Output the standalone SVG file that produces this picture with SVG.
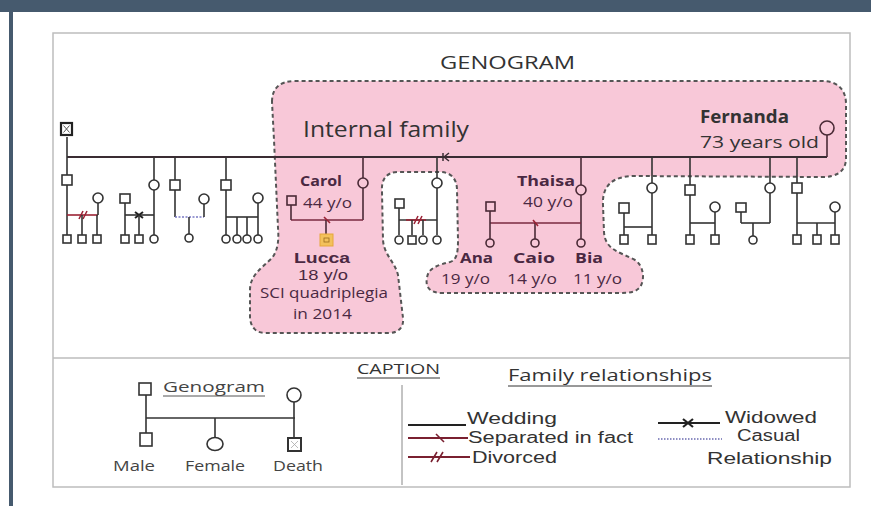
<svg xmlns="http://www.w3.org/2000/svg" width="871" height="506" viewBox="0 0 871 506">
<style>
text{font-family:"Open Sans","Liberation Sans",sans-serif;fill:#333}
.nm{font-weight:bold;fill:#4a2842;font-size:15px}
.ag{fill:#4a2842;font-size:14px}
.tight{font-family:"Liberation Sans",Arial,sans-serif}
.ln{stroke:#333;stroke-width:1.6;fill:none}
.pl{stroke:#4a2a36;stroke-width:1.6;fill:none}
.sq{fill:#fff;stroke:#333;stroke-width:1.6}
.ci{fill:#fff;stroke:#333;stroke-width:1.6}
.psq{fill:none;stroke:#4a2a36;stroke-width:1.6}
.red{stroke:#9b2335;stroke-width:1.6;fill:none}
.lg{font-family:"Liberation Sans",Arial,sans-serif;font-size:16px;fill:#333}
.cap{font-size:15px;fill:#444}
</style>
<rect x="0" y="0" width="871" height="506" fill="#fff"/>
<rect x="0" y="0" width="871" height="12" fill="#465a6e"/>
<rect x="9" y="0" width="4" height="506" fill="#465a6e"/>
<rect x="53" y="33" width="797" height="454" fill="#fff" stroke="#bdbdbd" stroke-width="1.5"/>
<line x1="53" y1="358" x2="850" y2="358" stroke="#bdbdbd" stroke-width="1.5"/>

<g id="internal-family">
<path d="M272,102 C272,88 280,81 295,81 L822,81 C838,81 846,90 846,104 L846,158 C846,172 836,177 822,177 L635,176 C612,176 602,186 603,205 L604,232 C605,250 620,252 635,260 C644,266 645,280 640,287 C636,292 630,293 620,293 L442,293 C430,293 425,287 427,278 C428,268 438,265 450,262 C457,260 458,252 458,240 L457,190 C457,178 450,172 440,172 L398,172 C386,172 381,180 382,192 L383,240 C384,255 395,262 398,275 L403,318 C404,328 398,333 388,333 L265,333 C255,333 250,326 250,316 L250,290 C250,275 262,268 272,258 C278,250 279,240 278,228 L274,140 Z" fill="#f8c8d8" stroke="#555" stroke-width="2" stroke-dasharray="4,3"/>
<text x="303" y="137" font-size="21" fill="#3a3a48" textLength="166" lengthAdjust="spacingAndGlyphs">Internal family</text>
</g>

<g id="title"><text x="440" y="69" font-size="18" fill="#222" textLength="135" lengthAdjust="spacingAndGlyphs">GENOGRAM</text></g>

<g id="connectors">
<line x1="67" y1="157" x2="827" y2="157" stroke="#3a2c33" stroke-width="2"/>
<line class="ln" x1="67" y1="137" x2="67" y2="175"/>
<line class="ln" x1="67" y1="185" x2="67" y2="235"/>
<line class="red" x1="67" y1="215" x2="98" y2="215"/>
<line class="red" x1="79" y1="219" x2="83" y2="211"/><line class="red" x1="83" y1="219" x2="87" y2="211"/>
<line class="ln" x1="98" y1="203" x2="98" y2="215"/>
<line class="ln" x1="82" y1="215" x2="82" y2="235"/><line class="ln" x1="97" y1="215" x2="97" y2="235"/>
<line class="ln" x1="154" y1="157" x2="154" y2="180"/>
<line class="ln" x1="154" y1="190" x2="154" y2="235"/>
<line class="ln" x1="125" y1="203" x2="125" y2="235"/>
<line class="ln" x1="125" y1="215" x2="154" y2="215"/>
<path d="M135,212 L143,218 M135,218 L143,212" stroke="#222" stroke-width="2"/>
<line class="ln" x1="139" y1="215" x2="139" y2="235"/>
<line class="ln" x1="175" y1="157" x2="175" y2="180"/>
<line class="ln" x1="175" y1="190" x2="175" y2="217"/>
<line x1="175" y1="217" x2="204" y2="217" stroke="#7a7ac4" stroke-width="1.6" stroke-dasharray="2,1.5"/>
<line class="ln" x1="204" y1="204" x2="204" y2="217"/>
<line class="ln" x1="189" y1="217" x2="189" y2="234"/>
<line class="ln" x1="226" y1="157" x2="226" y2="180"/>
<line class="ln" x1="226" y1="190" x2="226" y2="235"/>
<line class="ln" x1="226" y1="217" x2="258" y2="217"/>
<line class="ln" x1="258" y1="203" x2="258" y2="235"/>
<line class="ln" x1="237" y1="217" x2="237" y2="235"/><line class="ln" x1="247" y1="217" x2="247" y2="235"/>
<line class="pl" x1="363" y1="157" x2="363" y2="178"/>
<line class="pl" x1="363" y1="188" x2="363" y2="220"/>
<line x1="291" y1="220" x2="363" y2="220" stroke="#7a2a40" stroke-width="1.6"/>
<line class="pl" x1="291" y1="205" x2="291" y2="220"/>
<line class="pl" x1="326" y1="220" x2="326" y2="234"/>
<line x1="324" y1="217" x2="330" y2="223" stroke="#9b2335" stroke-width="1.6"/>
<line class="ln" x1="437" y1="157" x2="437" y2="178"/>
<line class="ln" x1="437" y1="188" x2="437" y2="235"/>
<line class="ln" x1="399" y1="208" x2="399" y2="235"/>
<line class="ln" x1="399" y1="220" x2="437" y2="220"/>
<line class="red" x1="406" y1="220" x2="426" y2="220"/>
<line class="red" x1="414" y1="224" x2="418" y2="216"/><line class="red" x1="418" y1="224" x2="422" y2="216"/>
<line class="ln" x1="412" y1="220" x2="412" y2="235"/><line class="ln" x1="423" y1="220" x2="423" y2="235"/>
<path d="M443,153 L443,161 M449,153 L444,157 L449,161" stroke="#3a2c33" stroke-width="1.5" fill="none"/>
<line class="pl" x1="581" y1="157" x2="581" y2="185"/>
<line class="pl" x1="581" y1="195" x2="581" y2="239"/>
<line x1="490" y1="223" x2="581" y2="223" stroke="#7a2a40" stroke-width="1.6"/>
<line class="pl" x1="490" y1="211" x2="490" y2="239"/>
<line class="pl" x1="535" y1="223" x2="535" y2="239"/>
<line x1="533" y1="220" x2="538" y2="226" stroke="#9b2335" stroke-width="1.6"/>
<line class="ln" x1="652" y1="157" x2="652" y2="183"/>
<line class="ln" x1="652" y1="193" x2="652" y2="235"/>
<line class="ln" x1="624" y1="213" x2="624" y2="235"/>
<line class="ln" x1="624" y1="227" x2="652" y2="227"/>
<line class="ln" x1="690" y1="157" x2="690" y2="185"/>
<line class="ln" x1="690" y1="195" x2="690" y2="235"/>
<line class="ln" x1="690" y1="223" x2="715" y2="223"/>
<line class="ln" x1="715" y1="212" x2="715" y2="235"/>
<line class="ln" x1="770" y1="157" x2="770" y2="183"/>
<line class="ln" x1="770" y1="193" x2="770" y2="223"/>
<line class="ln" x1="741" y1="212" x2="741" y2="223"/>
<line class="ln" x1="741" y1="223" x2="770" y2="223"/>
<line class="ln" x1="753" y1="223" x2="753" y2="236"/>
<line class="ln" x1="797" y1="157" x2="797" y2="183"/>
<line class="ln" x1="797" y1="193" x2="797" y2="235"/>
<line class="ln" x1="797" y1="223" x2="835" y2="223"/>
<line class="ln" x1="835" y1="212" x2="835" y2="235"/>
<line class="ln" x1="817" y1="223" x2="817" y2="235"/>
<line class="pl" x1="827" y1="135" x2="827" y2="157"/>
</g>

<g id="death-ancestor"><rect x="61" y="123" width="11" height="12" fill="#fff" stroke="#222" stroke-width="2.2"/><path d="M63.5,125.5 L69.5,132.5 M69.5,125.5 L63.5,132.5" stroke="#555" stroke-width="1"/></g>
<g id="fam1"><rect class="sq" x="62" y="175" width="10" height="10"/><circle class="ci" cx="98" cy="198" r="5"/>
<rect class="sq" x="63" y="235" width="8" height="8"/><rect class="sq" x="78" y="235" width="8" height="8"/><rect class="sq" x="93" y="235" width="8" height="8"/></g>
<g id="fam2"><rect class="sq" x="120" y="194" width="10" height="9"/><circle class="ci" cx="154" cy="185" r="5"/>
<rect class="sq" x="121" y="235" width="8" height="8"/><rect class="sq" x="135" y="235" width="8" height="8"/><circle class="ci" cx="154" cy="239" r="4"/></g>
<g id="fam3"><rect class="sq" x="170" y="180" width="10" height="10"/><circle class="ci" cx="204" cy="199" r="5"/><circle class="ci" cx="189" cy="238" r="4"/></g>
<g id="fam4"><rect class="sq" x="221" y="180" width="10" height="10"/><circle class="ci" cx="258" cy="198" r="5"/>
<circle class="ci" cx="226" cy="239" r="4"/><circle class="ci" cx="237" cy="239" r="4"/><circle class="ci" cx="247" cy="239" r="4"/><circle class="ci" cx="258" cy="239" r="4"/></g>
<g id="carol"><circle class="psq" cx="363" cy="183" r="5"/><rect class="psq" x="287" y="196" width="9" height="9"/>
<text class="nm" x="300" y="186" font-size="16" textLength="42" lengthAdjust="spacingAndGlyphs">Carol</text>
<text class="ag" x="303" y="208" font-size="15" textLength="49" lengthAdjust="spacingAndGlyphs">44 y/o</text></g>
<g id="lucca"><rect x="320" y="234" width="13" height="12" fill="#f3c15c" stroke="#e6a63a" stroke-width="1"/><rect x="324" y="238" width="5" height="4" fill="none" stroke="#9a6a20" stroke-width="0.8"/>
<text class="nm tight" x="294" y="263" font-size="15" textLength="56" lengthAdjust="spacingAndGlyphs">Lucca</text>
<text class="ag tight" x="298" y="280" font-size="15" textLength="50" lengthAdjust="spacingAndGlyphs">18 y/o</text>
<text class="ag" x="260" y="298" textLength="128" lengthAdjust="spacingAndGlyphs">SCI quadriplegia</text>
<text class="ag" x="293" y="319" textLength="59" lengthAdjust="spacingAndGlyphs">in 2014</text></g>
<g id="pocket"><circle class="ci" cx="437" cy="183" r="5"/><rect class="sq" x="395" y="199" width="9" height="9"/>
<circle class="ci" cx="399" cy="240" r="4"/><rect class="sq" x="408" y="236" width="8" height="8"/><circle class="ci" cx="423" cy="240" r="4"/><circle class="ci" cx="437" cy="240" r="4"/></g>
<g id="thaisa"><circle class="psq" cx="581" cy="190" r="5"/><rect class="psq" x="486" y="202" width="9" height="9"/>
<text class="nm" x="517" y="186" font-size="16" textLength="58" lengthAdjust="spacingAndGlyphs">Thaisa</text>
<text class="ag" x="523" y="207" font-size="15" textLength="50" lengthAdjust="spacingAndGlyphs">40 y/o</text></g>
<g id="ana"><circle class="psq" cx="490" cy="243" r="4"/><text class="nm" x="460" y="263" textLength="33" lengthAdjust="spacingAndGlyphs">Ana</text><text class="ag" x="441" y="284" textLength="49" lengthAdjust="spacingAndGlyphs">19 y/o</text></g>
<g id="caio"><circle class="psq" cx="535" cy="243" r="4"/><text class="nm" x="513" y="263" textLength="42" lengthAdjust="spacingAndGlyphs">Caio</text><text class="ag" x="507" y="284" textLength="50" lengthAdjust="spacingAndGlyphs">14 y/o</text></g>
<g id="bia"><circle class="psq" cx="581" cy="243" r="4"/><text class="nm" x="575" y="263" textLength="28" lengthAdjust="spacingAndGlyphs">Bia</text><text class="ag" x="573" y="284" textLength="49" lengthAdjust="spacingAndGlyphs">11 y/o</text></g>
<g id="fernanda"><circle class="psq" cx="827" cy="128" r="7"/>
<text x="700" y="123" font-size="17" font-weight="bold" fill="#4a2842" textLength="89" lengthAdjust="spacingAndGlyphs">Fernanda</text>
<text x="700" y="148" font-size="17" fill="#4a2842" textLength="119" lengthAdjust="spacingAndGlyphs">73 years old</text></g>
<g id="fam5"><circle class="ci" cx="652" cy="188" r="5"/><rect class="sq" x="619" y="203" width="10" height="10"/><rect class="sq" x="620" y="235" width="8" height="9"/><rect class="sq" x="648" y="235" width="8" height="9"/></g>
<g id="fam6"><rect class="sq" x="685" y="185" width="10" height="10"/><circle class="ci" cx="715" cy="207" r="5"/><rect class="sq" x="686" y="235" width="8" height="9"/><rect class="sq" x="711" y="235" width="8" height="9"/></g>
<g id="fam7"><circle class="ci" cx="770" cy="188" r="5"/><rect class="sq" x="736" y="203" width="10" height="9"/><circle class="ci" cx="753" cy="240" r="4"/></g>
<g id="fam8"><rect class="sq" x="792" y="183" width="10" height="10"/><circle class="ci" cx="835" cy="207" r="5"/><rect class="sq" x="793" y="235" width="8" height="9"/><rect class="sq" x="813" y="235" width="8" height="9"/><rect class="sq" x="831" y="235" width="8" height="9"/></g>

<g id="caption">
<text x="357" y="374" font-size="15" fill="#333" textLength="83" lengthAdjust="spacingAndGlyphs">CAPTION</text>
<line x1="357" y1="378" x2="440" y2="378" stroke="#333" stroke-width="1"/>
<line x1="402" y1="385" x2="402" y2="485" stroke="#888" stroke-width="1"/>
</g>
<g id="legend-genogram">
<text class="cap" x="163" y="392" textLength="102" lengthAdjust="spacingAndGlyphs">Genogram</text>
<line x1="163" y1="396" x2="265" y2="396" stroke="#555" stroke-width="1"/>
<rect class="sq" x="139" y="383" width="12" height="12"/>
<ellipse class="ci" cx="294" cy="395" rx="7" ry="7"/>
<line class="ln" x1="146" y1="395" x2="146" y2="433"/>
<line class="ln" x1="146" y1="418" x2="295" y2="418"/>
<line class="ln" x1="294" y1="402" x2="294" y2="438"/>
<line class="ln" x1="215" y1="418" x2="215" y2="437"/>
<rect class="sq" x="140" y="433" width="12" height="13"/>
<ellipse class="ci" cx="215" cy="444" rx="8" ry="6.5"/>
<rect x="288" y="438" width="13" height="13" fill="#fff" stroke="#333" stroke-width="2"/>
<path d="M291,441 L298,448 M298,441 L291,448" stroke="#aaa" stroke-width="0.8"/>
<text class="cap" x="113" y="471" textLength="42" lengthAdjust="spacingAndGlyphs">Male</text>
<text class="cap" x="185" y="471" textLength="60" lengthAdjust="spacingAndGlyphs">Female</text>
<text class="cap" x="273" y="471" textLength="50" lengthAdjust="spacingAndGlyphs">Death</text>
</g>
<g id="legend-relationships">
<text x="508" y="381" font-size="16" fill="#333" textLength="204" lengthAdjust="spacingAndGlyphs">Family relationships</text>
<line x1="508" y1="386" x2="712" y2="386" stroke="#333" stroke-width="1"/>
<line x1="408" y1="425" x2="466" y2="425" stroke="#222" stroke-width="2"/>
<text class="lg" x="467" y="424" textLength="90" lengthAdjust="spacingAndGlyphs">Wedding</text>
<line x1="408" y1="438" x2="468" y2="438" stroke="#7a2030" stroke-width="2"/>
<path d="M436,434 L440,438 L444,442" stroke="#7a2030" stroke-width="1.6" fill="none"/>
<text class="lg" x="468" y="443" textLength="165" lengthAdjust="spacingAndGlyphs">Separated in fact</text>
<line x1="408" y1="457" x2="470" y2="457" stroke="#7a2030" stroke-width="2"/>
<path d="M431,462 L437,452 M437,462 L443,452" stroke="#7a2030" stroke-width="1.6"/>
<text class="lg" x="472" y="463" textLength="85" lengthAdjust="spacingAndGlyphs">Divorced</text>
<line x1="658" y1="423" x2="720" y2="423" stroke="#222" stroke-width="2"/>
<path d="M683,419 L693,427 M683,427 L693,419" stroke="#222" stroke-width="2.2"/>
<text class="lg" x="725" y="423" textLength="92" lengthAdjust="spacingAndGlyphs">Widowed</text>
<line x1="658" y1="439" x2="722" y2="439" stroke="#6a6ab0" stroke-width="1.5" stroke-dasharray="1.5,1.5"/>
<text class="lg" x="737" y="441" textLength="63" lengthAdjust="spacingAndGlyphs">Casual</text>
<text class="lg" x="707" y="464" textLength="125" lengthAdjust="spacingAndGlyphs">Relationship</text>
</g>
</svg>
